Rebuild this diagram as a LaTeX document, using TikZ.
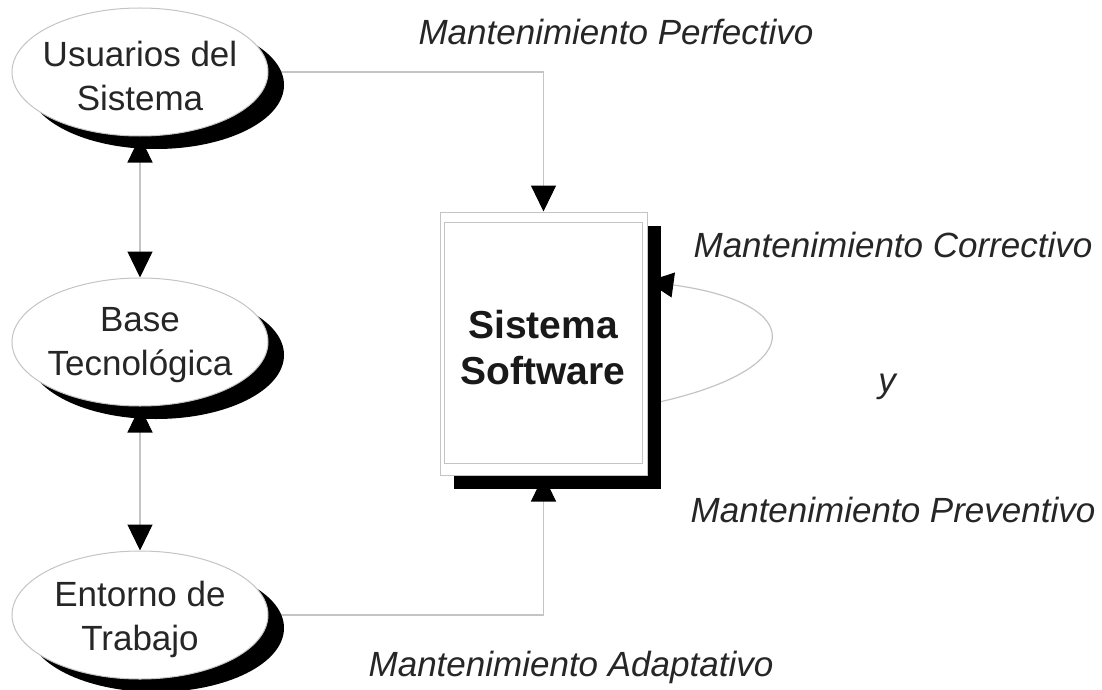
\documentclass[tikz,border=0pt]{standalone}
\usepackage{fontspec}
\setmainfont{Liberation Sans}
\usetikzlibrary{arrows.meta,shapes.geometric,calc}
\pgfdeclarelayer{wires}
\pgfsetlayers{wires,main}
\definecolor{linegray}{RGB}{196,196,196}

\begin{document}
\begin{tikzpicture}[x=1pt,y=-1pt,
  wire/.style={draw=linegray, line width=1.2pt},
  headtip/.style={-{Triangle[width=25pt,length=26pt,black]}},
  bothtips/.style={{Triangle[width=25pt,length=26pt,black]}-{Triangle[width=25pt,length=26pt,black]}},
  oval/.style={ellipse, draw=linegray, fill=white, line width=1pt,
    minimum width=256pt, minimum height=128pt, inner sep=0pt},
  ovaltext/.style={align=center, inner sep=0pt, text=black!85,
    font=\fontsize{35}{44}\selectfont},
  ovalshadow/.style={ellipse, fill=black, minimum width=256pt,
    minimum height=128pt, inner sep=0pt},
  boxshape/.style={rectangle, draw=linegray, fill=white, line width=1pt,
    minimum width=207pt, minimum height=263pt, inner sep=0pt},
  boxshadow/.style={rectangle, fill=black, minimum width=207pt,
    minimum height=263pt, inner sep=0pt},
  mtext/.style={anchor=base, inner sep=0pt,
    font=\itshape\fontsize{35}{42}\selectfont, text=black!85}
]
\useasboundingbox (0,0) rectangle (1102,690);

% drop shadows
\node[ovalshadow] (usrsh) at (156,85) {};
\node[ovalshadow] (bassh) at (156,355) {};
\node[ovalshadow] (entsh) at (156,628) {};
\node[boxshadow] (swsh) at (557.5,357.5) {};

% left column of ovals
\node[oval] (usr) at (140,72) {};
\node[oval] (bas) at (140,342) {};
\node[oval] (ent) at (140,615) {};
\node[ovaltext] (usrtext) at (140,76) {Usuarios del\\Sistema};
\node[ovaltext] (bastext) at (140,345) {Base\\Tecnológica};
\node[ovaltext] (enttext) at (140,619) {Entorno de\\Trabajo};

% software system box with its inner frame
\node[boxshape] (sw) at (543.5,343.5) {};
\node[rectangle, draw=linegray, line width=1pt, minimum width=198pt,
  minimum height=241pt, inner sep=0pt] (swin) at (543,342.5) {};
\node[align=center, inner sep=0pt, text=black!90,
  font=\bfseries\fontsize{39}{46}\selectfont]
  (swtext) at (543,348) {Sistema\\Software};

% maintenance labels
\node[mtext] (perf) at (616,45) {Mantenimiento Perfectivo};
\node[mtext] (corr) at (893,257) {Mantenimiento Correctivo};
\node[mtext] (yy) at (887,392) {y};
\node[mtext] (prev) at (893,522) {Mantenimiento Preventivo};
\node[mtext] (adap) at (571,676) {Mantenimiento Adaptativo};

% connectors
\begin{pgfonlayer}{wires}
\draw[wire, headtip] (usr.east) -- (usr.east -| sw.north) -- (sw.north);
\draw[wire, headtip] (ent.east) -- (ent.east -| sw.south) -- (sw.south);
\draw[wire, bothtips] (usr.south) -- (bas.north);
\draw[wire, bothtips] (bas.south) -- (ent.north);
\draw[wire, headtip] ($(sw.east)+(0,61)$)
  .. controls ($(sw.east)+(162,28)$) and ($(sw.east)+(162,-40)$)
  .. ($(sw.east)+(0,-62)$);
\end{pgfonlayer}
\end{tikzpicture}
\end{document}
